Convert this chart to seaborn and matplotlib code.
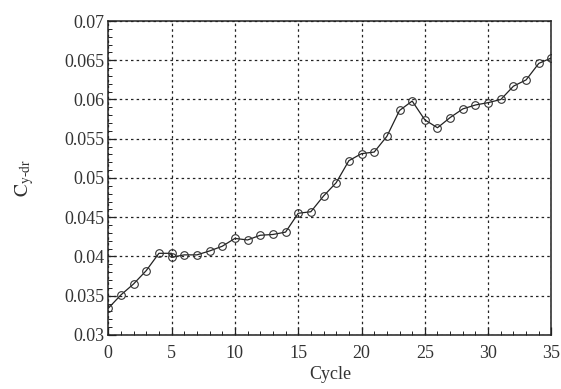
import matplotlib
matplotlib.use("Agg")
import matplotlib.pyplot as plt
import seaborn as sns
import pandas as pd
from matplotlib.ticker import MultipleLocator

cycles = [0, 1, 2, 3, 4, 5, 5, 6, 7, 8, 9, 10, 11, 12, 13, 14, 15, 16, 17, 18,
          19, 20, 21, 22, 23, 24, 25, 26, 27, 28, 29, 30, 31, 32, 33, 34, 35]
cy_dr = [0.0334, 0.0351, 0.0365, 0.0382, 0.0404, 0.0404, 0.0399, 0.0402, 0.0402,
         0.0407, 0.0413, 0.0423, 0.0421, 0.0427, 0.0428, 0.0431, 0.0455, 0.0457,
         0.0477, 0.0494, 0.0522, 0.0531, 0.0533, 0.0553, 0.0586, 0.0598, 0.0574,
         0.0564, 0.0577, 0.0588, 0.0593, 0.0596, 0.0600, 0.0617, 0.0625, 0.0646,
         0.0653]
x_ticks = [0, 5, 10, 15, 20, 25, 30, 35]
y_ticks = [0.03, 0.035, 0.04, 0.045, 0.05, 0.055, 0.06, 0.065, 0.07]
y_labels = ["0.03", "0.035", "0.04", "0.045", "0.05", "0.055", "0.06", "0.065", "0.07"]

df = pd.DataFrame({"Cycle": cycles, "C": cy_dr})

sns.set_style("ticks")
plt.rcParams["font.family"] = ["Liberation Serif", "DejaVu Serif"]
plt.rcParams["mathtext.fontset"] = "stix"

fig = plt.figure(figsize=(5.61, 3.89), dpi=100)
ax = fig.add_axes([0.193, 0.139, 0.79, 0.807])

sns.lineplot(data=df, x="Cycle", y="C", estimator=None, sort=False, ax=ax,
             color="#222222", linewidth=0.9, marker="o", markersize=5.5,
             markerfacecolor="none", markeredgecolor="#333333",
             markeredgewidth=0.8)

ax.set_xlim(0, 35)
ax.set_ylim(0.03, 0.07)
ax.set_xticks(x_ticks)
ax.set_xticklabels([str(t) for t in x_ticks])
ax.set_yticks(y_ticks)
ax.set_yticklabels(y_labels)
ax.xaxis.set_minor_locator(MultipleLocator(1))
ax.yaxis.set_minor_locator(MultipleLocator(0.001))
ax.tick_params(which="major", direction="in", length=6, width=0.9,
               labelsize=13, colors="#222222", labelcolor="#333333", pad=3)
ax.tick_params(axis="x", which="major", pad=7)
ax.tick_params(which="minor", direction="in", length=3, width=0.7, colors="#222222")
ax.grid(True, which="major", linestyle=(0, (2, 2.5)), color="#222222", linewidth=0.9)
for s in ax.spines.values():
    s.set_visible(True)
    s.set_color("#222222")
    s.set_linewidth(1.1)

ax.set_xlabel("Cycle", fontsize=13, color="#333333", labelpad=3)
ax.set_ylabel(r"$\mathrm{C}_{\mathrm{y‐dr}}$", fontsize=14, color="#333333", labelpad=20)

fig.savefig("out.png", dpi=100, facecolor="white")
